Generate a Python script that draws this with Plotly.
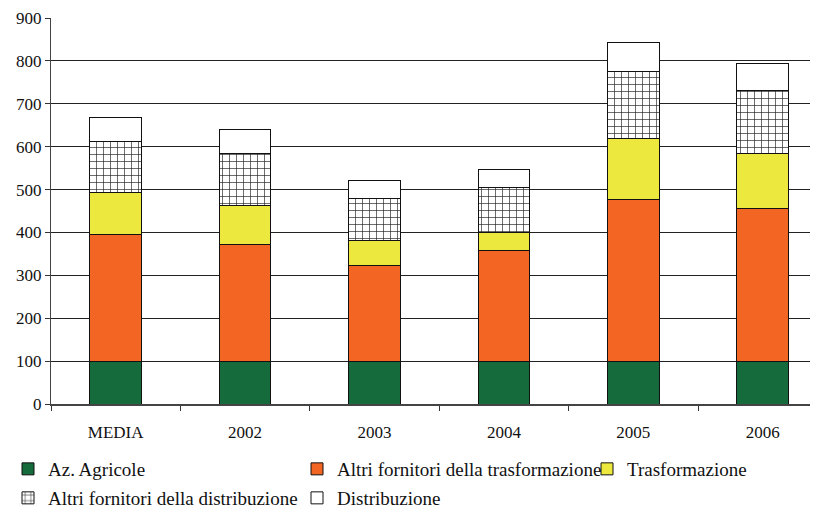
import plotly.graph_objects as go

categories = ["MEDIA", "2002", "2003", "2004", "2005", "2006"]
az_agricole = [100, 100, 100, 100, 100, 100]
altri_trasf = [296, 271, 224, 257, 376, 357]
trasformazione = [96, 93, 58, 42, 144, 128]
altri_distr = [121, 119, 96, 105, 156, 145]
distribuzione = [56, 56, 44, 42, 68, 65]
y_ticks = [0, 100, 200, 300, 400, 500, 600, 700, 800, 900]

FONT = "Liberation Serif"
fig = go.Figure()

series = [
    ("Az. Agricole", az_agricole, "#156b3c", None, "legend", ),
    ("Altri fornitori della trasformazione", altri_trasf, "#F26522", None, "legend2"),
    ("Trasformazione", trasformazione, "#ECE83E", None, "legend3"),
    ("Altri fornitori della distribuzione", altri_distr, "white",
     dict(shape="+", size=7, solidity=0.18, fgcolor="#222222", bgcolor="white", fillmode="replace"), "legend4"),
    ("Distribuzione", distribuzione, "white", None, "legend5"),
]
for name, vals, color, pattern, leg in series:
    marker = dict(color=color, line=dict(color="#111111", width=1))
    if pattern:
        marker["pattern"] = pattern
    fig.add_trace(go.Bar(name=name, x=categories, y=vals, marker=marker, legend=leg))

leg_common = dict(orientation="h", xref="container", yref="container", yanchor="middle",
                  xanchor="left", bgcolor="rgba(0,0,0,0)", borderwidth=0,
                  font=dict(family=FONT, size=19, color="#111"), itemwidth=30)
pos = {
    "legend": (45 - 49, 469 - 8),
    "legend2": (338 - 49, 469 - 8),
    "legend3": (628 - 49, 469 - 8),
    "legend4": (43 - 51, 498 - 8),
    "legend5": (338 - 49, 498 - 8),
}
layout_leg = {}
for k, (px, py) in pos.items():
    d = dict(leg_common)
    d["x"] = px / 818
    d["y"] = 1 - py / 512
    layout_leg[k] = d

fig.update_layout(
    width=818, height=512,
    barmode="stack", bargap=0.6,
    plot_bgcolor="white", paper_bgcolor="white",
    margin=dict(l=43, r=8, t=10, b=116, autoexpand=False),
    font=dict(family=FONT, size=17, color="#111"),
    showlegend=True,
    **layout_leg,
)
fig.update_xaxes(
    range=[-0.5, 5.427], tickson="boundaries", ticks="outside", ticklen=5,
    tickcolor="#333", showline=True, linecolor="#444", linewidth=2,
    showgrid=False, ticklabelstandoff=12, tickfont=dict(family=FONT, size=17),
    automargin=False,
)
fig.update_yaxes(
    range=[0, 900], tickvals=y_ticks, ticks="outside", ticklen=5, tickcolor="#333",
    showline=True, linecolor="#444", linewidth=1, showgrid=True, gridcolor="#222",
    gridwidth=1, zeroline=False, tickfont=dict(family=FONT, size=17),
    automargin=False,
)
fig.write_html("out.html")
